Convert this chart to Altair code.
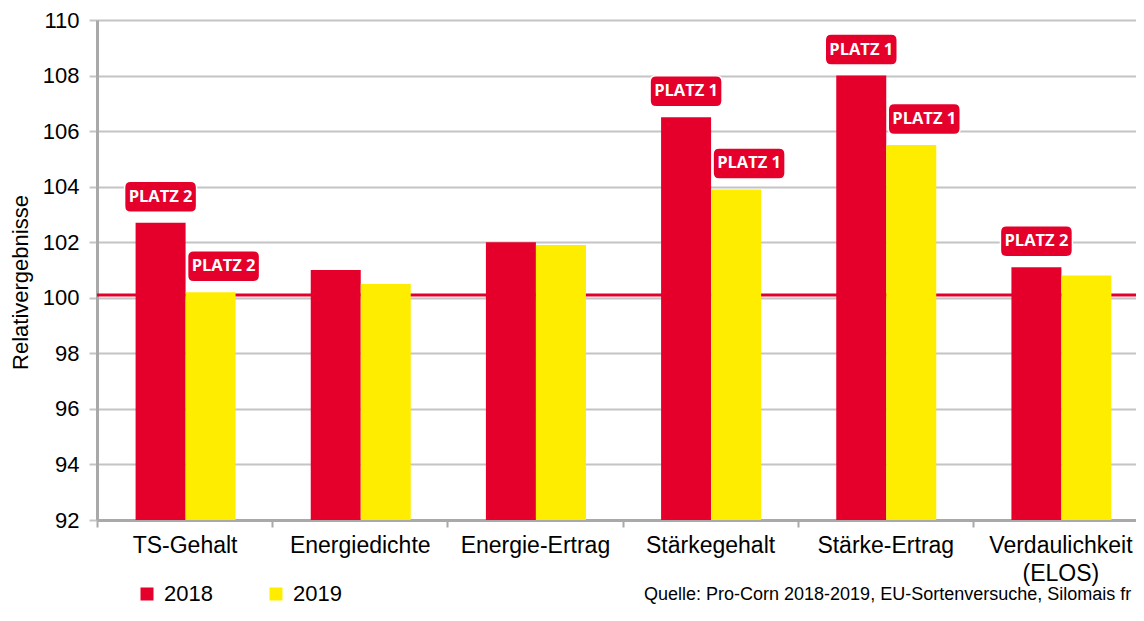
import altair as alt
import pandas as pd

# ---- data ----
categories = ["TS-Gehalt", "Energiedichte", "Energie-Ertrag", "Stärkegehalt",
              "Stärke-Ertrag", "Verdaulichkeit|(ELOS)"]
years = ["2018", "2019"]
values_2018 = [102.7, 101.0, 102.0, 106.5, 108.0, 101.1]
values_2019 = [100.2, 100.5, 101.9, 103.9, 105.5, 100.8]
rank_2018 = ["PLATZ 2", "", "", "PLATZ 1", "PLATZ 1", "PLATZ 2"]
rank_2019 = ["PLATZ 2", "", "", "PLATZ 1", "PLATZ 1", ""]
y_ticks = [92, 94, 96, 98, 100, 102, 104, 106, 108, 110]
reference_level = [100.1]
y_title = "Relativergebnisse"
source_note = "Quelle: Pro-Corn 2018-2019, EU-Sortenversuche, Silomais fr"

RED = "#E4002B"
YELLOW = "#FFED00"
GRID = "#C4C4C4"
AXIS = "#A9A9A9"
FONT = "Liberation Sans"

rows = []
for c, v18, v19, r18, r19 in zip(categories, values_2018, values_2019, rank_2018, rank_2019):
    rows.append({"category": c, "year": "2018", "value": v18, "rank": r18})
    rows.append({"category": c, "year": "2019", "value": v19, "rank": r19})
df = pd.DataFrame(rows)

yscale = alt.Scale(domain=[92, 110], zero=False, nice=False)
# the category axis runs slightly past the right edge of the picture (cropped, as in the reference)
x_enc = alt.X(
    "category:N", sort=categories, title=None,
    scale=alt.Scale(paddingInner=0, paddingOuter=0, range=[0, 1051]),
    axis=alt.Axis(
        labelExpr="split(datum.label, '|')", labelAngle=0, labelFontSize=23,
        labelFont=FONT, labelColor="black", labelPadding=7, labelLineHeight=28,
        tickBand="extent", tickSize=7, tickWidth=2, tickColor=AXIS,
        domainColor=AXIS, domainWidth=3, grid=False,
    ),
)
y_axis = alt.Axis(
    values=y_ticks, grid=True, gridColor=GRID, gridWidth=2,
    tickSize=8, tickWidth=2, tickColor=GRID, domainColor=AXIS, domainWidth=3,
    labelFontSize=22, labelFont=FONT, labelColor="black", labelPadding=10,
    titleFont=FONT, titleFontSize=22, titleFontWeight="normal", titleColor="black",
    titleX=-77, titleY=262, titleAngle=-90, titleAlign="center", titleBaseline="middle",
)


def y_enc(field):
    return alt.Y(field, scale=yscale, axis=y_axis, title=y_title)


base = alt.Chart(df)

ref_rule = alt.Chart(pd.DataFrame({"level": reference_level})).mark_rule(
    color=RED, strokeWidth=3
).encode(y=y_enc("level:Q"))

color_enc = alt.Color(
    "year:N", scale=alt.Scale(domain=years, range=[RED, YELLOW]),
    legend=alt.Legend(
        title=None, orient="none", direction="horizontal", legendX=39, legendY=563,
        symbolType="square", symbolSize=169, symbolStrokeWidth=0, symbolOpacity=1,
        labelFontSize=22, labelFont=FONT, labelColor="black", labelOffset=6,
        columnPadding=52, padding=0,
    ),
)

bars18 = base.transform_filter(alt.datum.year == "2018").mark_bar(
    width=50, xOffset=-24, clip=True
).encode(x=x_enc, y=y_enc("value:Q"), color=color_enc)
bars19 = base.transform_filter(alt.datum.year == "2019").mark_bar(
    width=50, xOffset=26, clip=True
).encode(x=x_enc, y=y_enc("value:Q"), color=color_enc)

BOX = ("M-0.833,-0.43 L0.833,-0.43 Q1,-0.43 1,-0.263 L1,0.263 Q1,0.43 0.833,0.43 "
       "L-0.833,0.43 Q-1,0.43 -1,0.263 L-1,-0.263 Q-1,-0.43 -0.833,-0.43 Z")


def badge(year, dx):
    src = base.transform_filter((alt.datum.year == year) & (alt.datum.rank != ""))
    box = src.mark_point(
        shape=BOX, size=5184, filled=True, fill=RED, opacity=1,
        stroke="white", strokeWidth=1.5, xOffset=dx, yOffset=-26,
    ).encode(x=x_enc, y=y_enc("value:Q"))
    txt = src.mark_text(
        font="Open Sans", fontWeight="bold", fontSize=16.5, color="white",
        align="center", baseline="middle", xOffset=dx, yOffset=-26,
    ).encode(x=x_enc, y=y_enc("value:Q"), text="rank:N")
    return box + txt


note = alt.Chart(pd.DataFrame({"note": [source_note]})).mark_text(
    align="left", baseline="middle", fontSize=18, font=FONT, color="black"
).encode(x=alt.value(547), y=alt.value(575), text="note:N")

chart = alt.layer(
    ref_rule, bars18, bars19, badge("2018", -24), badge("2019", 39), note
).properties(
    width=1039, height=500,
    autosize=alt.AutoSizeParams(type="none"),
    padding={"left": 89, "top": 12, "right": 0, "bottom": 88},
    background="white",
).configure_view(stroke=None)

chart.save("out.html", embed_options={"renderer": "svg", "actions": False})
